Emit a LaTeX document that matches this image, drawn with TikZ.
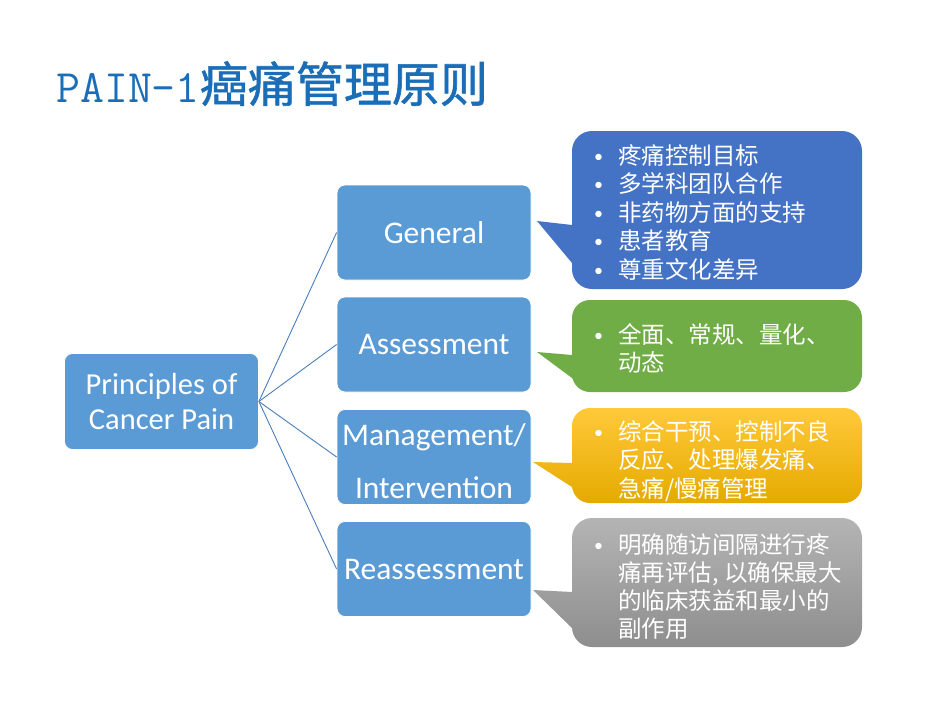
\documentclass[tikz,border=0pt]{standalone}
\usepackage{fontspec}
\setmainfont{Carlito}
\newfontfamily\cjk{Noto Sans CJK SC}
\newfontfamily\cjktitle[FakeBold=1.2]{Noto Sans CJK SC}
\definecolor{boxblue}{HTML}{5B9BD5}
\definecolor{linkblue}{HTML}{4A7EBB}
\definecolor{titleblue}{HTML}{1A6EB8}
\definecolor{calblue}{HTML}{4472C4}
\definecolor{calgreen}{HTML}{70AD47}
\definecolor{calyelT}{HTML}{FFC93A}
\definecolor{calyelB}{HTML}{E5AA00}
\definecolor{calgrayT}{HTML}{B4B4B4}
\definecolor{calgrayB}{HTML}{8E8E8E}
\newcommand\bul{\makebox[24pt][l]{\rmfamily\fontsize{18}{18}\selectfont\raisebox{2pt}{•}}}
\newcommand\ind{\hspace*{24pt}}
\tikzset{
  pbox/.style={fill=boxblue, draw=white, line width=0.8pt, rounded corners=8pt,
    minimum width=194pt, minimum height=95pt, text=white, align=center,
    inner sep=0pt, font=\fontsize{31.5}{53}\selectfont},
  link/.style={draw=linkblue, line width=0.9pt},
  ctext/.style={text=white, inner sep=0pt, anchor=base west,
    font=\cjk\fontsize{23.5}{28.5}\selectfont}
}
\begin{document}
\begin{tikzpicture}[x=1pt,y=-1pt]
\useasboundingbox[fill=white] (0,0) rectangle (950,713);

% title
\node[anchor=base west, inner sep=0pt, text=titleblue] (title) at (56,102)
  {{\ttfamily\fontsize{46.5}{46}\selectfont PAIN-1}{\cjktitle\fontsize{48}{48}\selectfont 癌痛管理原则}};

% boxes
\node[pbox, minimum height=96pt, font=\fontsize{30.5}{35}\selectfont] (root) at (161.5,401.5) {Principles of\\Cancer Pain};
\node[pbox] (gen) at (434,232.5) {General};
\node[pbox] (ass) at (434,344.5) {Assessment};
\node[pbox] (man) at (434,457) {\rule{0pt}{30pt}Management/\\Intervention};
\node[pbox] (rea) at (434,569) {Reassessment};

\draw[link] (root.east) -- (gen.west);
\draw[link] (root.east) -- (ass.west);
\draw[link] (root.east) -- (man.west);
\draw[link] (root.east) -- (rea.west);

% callouts
\fill[calblue] (572,225) -- (537,221) -- (572,263) -- (572,264) [rounded corners=20pt]
  -- (572,289) -- (862,289) -- (862,131) -- (572,131) -- (572,224) [sharp corners] -- cycle;
\fill[calgreen] (572,355) -- (537,352) -- (572,378) -- (572,379) [rounded corners=18pt]
  -- (572,392) -- (862,392) -- (862,300) -- (572,300) -- (572,354) [sharp corners] -- cycle;
\shade[top color=calyelT, bottom color=calyelB] (572,463) -- (533,462) -- (572,487) -- (572,488) [rounded corners=18pt]
  -- (572,503) -- (862,503) -- (862,408) -- (572,408) -- (572,462) [sharp corners] -- cycle;
\shade[top color=calgrayT, bottom color=calgrayB] (572,592) -- (533,590) -- (572,628) -- (572,629) [rounded corners=20pt]
  -- (572,647) -- (862,647) -- (862,518) -- (572,518) -- (572,591) [sharp corners] -- cycle;

% callout texts
\node[ctext] (tgen) at (594,164) {\parbox[t]{265pt}{\fontsize{23.5}{28.5}\selectfont
  \bul 疼痛控制目标\\
  \bul 多学科团队合作\\
  \bul 非药物方面的支持\\
  \bul 患者教育\\
  \bul 尊重文化差异}};
\node[ctext] (tass) at (594,343) {\parbox[t]{265pt}{\fontsize{23.5}{28.5}\selectfont
  \bul 全面、常规、量化、\\
  \ind 动态}};
\node[ctext] (tman) at (594,440) {\parbox[t]{265pt}{\fontsize{23.5}{28.5}\selectfont
  \bul 综合干预、控制不良\\
  \ind 反应、处理爆发痛、\\
  \ind 急痛/慢痛管理}};
\node[ctext] (trea) at (594,553) {\parbox[t]{265pt}{\fontsize{23.5}{28.2}\selectfont
  \bul 明确随访间隔进行疼\\
  \ind 痛再评估, 以确保最大\\
  \ind 的临床获益和最小的\\
  \ind 副作用}};
\end{tikzpicture}
\end{document}
